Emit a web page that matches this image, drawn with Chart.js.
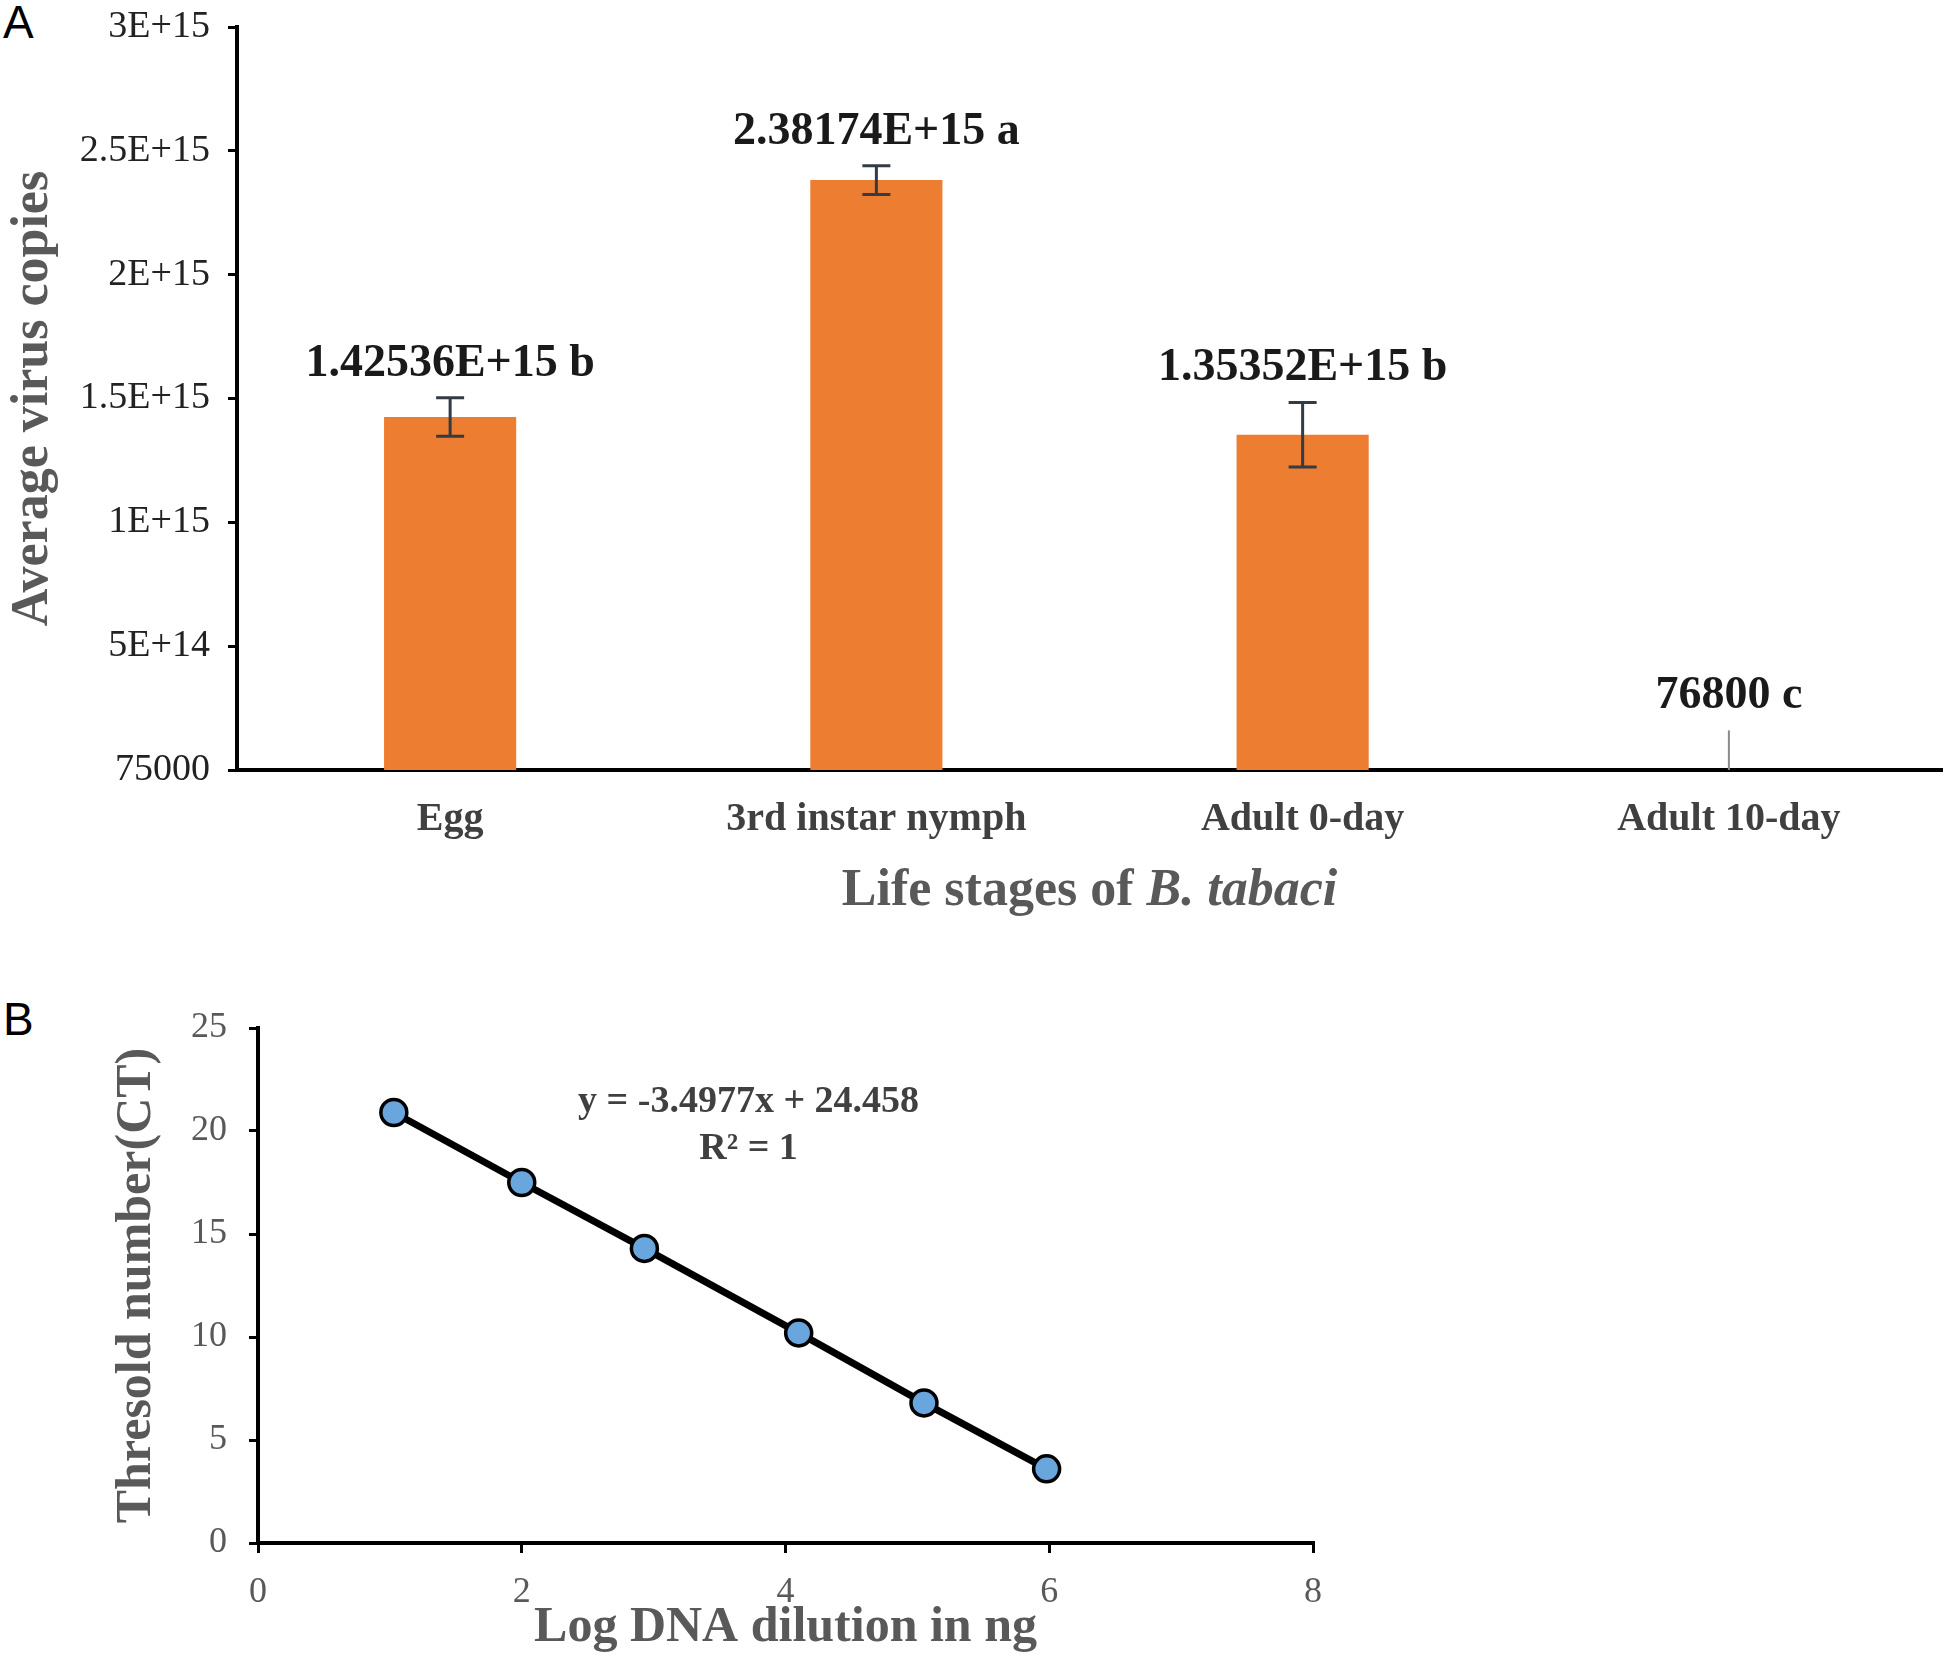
<!DOCTYPE html>
<html>
<head>
<meta charset="utf-8">
<script src="https://cdn.jsdelivr.net/npm/chart.js@4.4.1/dist/chart.umd.min.js"></script>
<style>
  body { margin: 0; background: #fff; width: 1950px; height: 1670px; position: relative; overflow: hidden; }
  canvas { position: absolute; }
  .panel { position: absolute; font-family: "Liberation Sans", Arial, sans-serif; font-size: 46px; color: #000; line-height: 1; }
</style>
</head>
<body>
<div class="panel" style="left:3px; top:-1px;">A</div>
<div class="panel" style="left:3px; top:996px;">B</div>
<canvas id="chartA" width="1950" height="940" style="left:0; top:0;"></canvas>
<canvas id="chartB" width="1340" height="690" style="left:0; top:980px;"></canvas>
<script>
// panel A: virus copies per life stage
var stages = ["Egg", "3rd instar nymph", "Adult 0-day", "Adult 10-day"];
var copies = [1.42536e15, 2.38174e15, 1.35352e15, 76800];
var copyErr = [0.078e15, 0.058e15, 0.13e15, 0.16e15];
var barLabels = ["1.42536E+15 b", "2.38174E+15 a", "1.35352E+15 b", "76800 c"];
var yTickVals = [75000, 5e14, 1e15, 1.5e15, 2e15, 2.5e15, 3e15];
var yTickText = ["75000", "5E+14", "1E+15", "1.5E+15", "2E+15", "2.5E+15", "3E+15"];

// panel B: standard curve
var logDilution = [1.03, 2.0, 2.93, 4.1, 5.05, 5.98];
var ctValues = [20.9, 17.5, 14.3, 10.2, 6.8, 3.6];

var serif = "'Liberation Serif', 'Times New Roman', serif";

function noPadY(s, w) { s.width = w; s.paddingTop = 0; s.paddingBottom = 0; }
function noPadX(s, h) { s.height = h; s.paddingLeft = 0; s.paddingRight = 0; }

var errorBars = {
  id: 'errorBars',
  afterDatasetsDraw: function (chart, args, opts) {
    var meta = chart.getDatasetMeta(0);
    var ys = chart.scales.y;
    var ctx = chart.ctx;
    ctx.save();
    meta.data.forEach(function (bar, i) {
      var x = bar.x;
      var top = ys.getPixelForValue(copies[i] + copyErr[i]);
      var bot = ys.getPixelForValue(Math.max(copies[i] - copyErr[i], ys.min));
      var thin = opts.uncapped.indexOf(i) >= 0;
      ctx.strokeStyle = thin ? '#8a8a8a' : '#333b44';
      ctx.lineWidth = thin ? 2 : 3;
      ctx.beginPath();
      ctx.moveTo(x, top); ctx.lineTo(x, bot);
      if (!thin) {
        ctx.moveTo(x - 14, top); ctx.lineTo(x + 14, top);
        ctx.moveTo(x - 14, bot); ctx.lineTo(x + 14, bot);
      }
      ctx.stroke();
      ctx.fillStyle = '#1a1a1a';
      ctx.font = 'bold 46px ' + serif;
      ctx.textAlign = 'center';
      ctx.textBaseline = 'middle';
      ctx.fillText(barLabels[i], x, top - 34);
    });
    // x axis title with italic species name
    var xs = chart.scales.x;
    var cx = (xs.left + xs.right) / 2;
    var part1 = 'Life stages of ', part2 = 'B. tabaci';
    ctx.font = 'bold 52px ' + serif;
    var w1 = ctx.measureText(part1).width;
    ctx.font = 'italic bold 52px ' + serif;
    var w2 = ctx.measureText(part2).width;
    var sx = cx - (w1 + w2) / 2;
    ctx.fillStyle = '#595959';
    ctx.textAlign = 'left';
    ctx.textBaseline = 'middle';
    ctx.font = 'bold 52px ' + serif;
    ctx.fillText(part1, sx, 892);
    ctx.font = 'italic bold 52px ' + serif;
    ctx.fillText(part2, sx + w1, 892);
    ctx.restore();
  }
};

new Chart(document.getElementById('chartA'), {
  type: 'bar',
  data: {
    labels: stages,
    datasets: [{
      data: copies,
      backgroundColor: '#ED7D31',
      barPercentage: 0.62,
      categoryPercentage: 0.5
    }]
  },
  options: {
    responsive: false,
    animation: false,
    devicePixelRatio: 1,
    layout: { padding: { top: 27, right: 8, left: 0, bottom: 0 } },
    plugins: {
      legend: { display: false },
      tooltip: { enabled: false },
      errorBars: { uncapped: [3] }
    },
    scales: {
      x: {
        grid: { display: true, drawOnChartArea: false, drawTicks: false },
        border: { color: '#000', width: 4 },
        ticks: { color: '#404040', padding: 26, font: { family: serif, size: 40, weight: 'bold' } },
        afterFit: function (s) { noPadX(s, 170); }
      },
      y: {
        min: 75000,
        max: 3e15,
        afterBuildTicks: function (s) { s.ticks = yTickVals.map(function (v) { return { value: v }; }); },
        grid: { drawOnChartArea: false, drawTicks: true, tickLength: 9, color: '#000', lineWidth: 3 },
        border: { color: '#000', width: 4 },
        ticks: {
          color: '#222222', padding: 18,
          font: { family: serif, size: 38 },
          callback: function (v, i) { return yTickText[i]; }
        },
        title: {
          display: true, text: 'Average virus copies', color: '#595959',
          font: { family: serif, size: 52, weight: 'bold', lineHeight: 1 },
          padding: { top: 8, bottom: 0 }
        },
        afterFit: function (s) { noPadY(s, 237); }
      }
    }
  },
  plugins: [errorBars]
});

var equationText = {
  id: 'equationText',
  afterDatasetsDraw: function (chart, args, opts) {
    var ctx = chart.ctx;
    var xs = chart.scales.x, ys = chart.scales.y;
    ctx.save();
    ctx.fillStyle = '#404040';
    ctx.font = 'bold 38px ' + serif;
    ctx.textAlign = 'center';
    ctx.textBaseline = 'middle';
    opts.lines.forEach(function (ln) {
      ctx.fillText(ln.text, xs.getPixelForValue(ln.x), ys.getPixelForValue(ln.y));
    });
    ctx.restore();
  }
};

new Chart(document.getElementById('chartB'), {
  type: 'scatter',
  data: {
    datasets: [{
      data: logDilution.map(function (x, i) { return { x: x, y: ctValues[i] }; }),
      showLine: true,
      borderColor: '#000',
      borderWidth: 7,
      pointRadius: 13,
      pointBorderWidth: 3.5,
      pointBorderColor: '#000',
      pointBackgroundColor: '#6AA6DE'
    }]
  },
  options: {
    responsive: false,
    animation: false,
    devicePixelRatio: 1,
    layout: { padding: { top: 48, right: 27, left: 0, bottom: 0 } },
    plugins: {
      legend: { display: false },
      tooltip: { enabled: false },
      equationText: { lines: [
        { text: 'y = -3.4977x + 24.458', x: 3.72, y: 21.4 },
        { text: 'R\u00B2 = 1', x: 3.72, y: 19.1 }
      ] }
    },
    scales: {
      x: {
        min: 0, max: 8,
        ticks: { stepSize: 2, color: '#595959', padding: 18, font: { family: serif, size: 36 } },
        grid: { drawOnChartArea: false, drawTicks: true, tickLength: 10, color: '#000', lineWidth: 3 },
        border: { color: '#000', width: 4 },
        title: {
          display: true, text: 'Log DNA dilution in ng', color: '#595959',
          font: { family: serif, size: 50, weight: 'bold', lineHeight: 1 },
          padding: { top: 0, bottom: 17 }
        },
        afterFit: function (s) { noPadX(s, 127); }
      },
      y: {
        min: 0, max: 25,
        ticks: { stepSize: 5, color: '#595959', padding: 22, font: { family: serif, size: 36 } },
        grid: { drawOnChartArea: false, drawTicks: true, tickLength: 9, color: '#000', lineWidth: 3 },
        border: { color: '#000', width: 4 },
        title: {
          display: true, text: 'Thresold number(CT)', color: '#595959',
          font: { family: serif, size: 50, weight: 'bold', lineHeight: 1 },
          padding: { top: 112, bottom: 0 }
        },
        afterFit: function (s) { noPadY(s, 258); }
      }
    }
  },
  plugins: [equationText]
});
</script>
</body>
</html>
